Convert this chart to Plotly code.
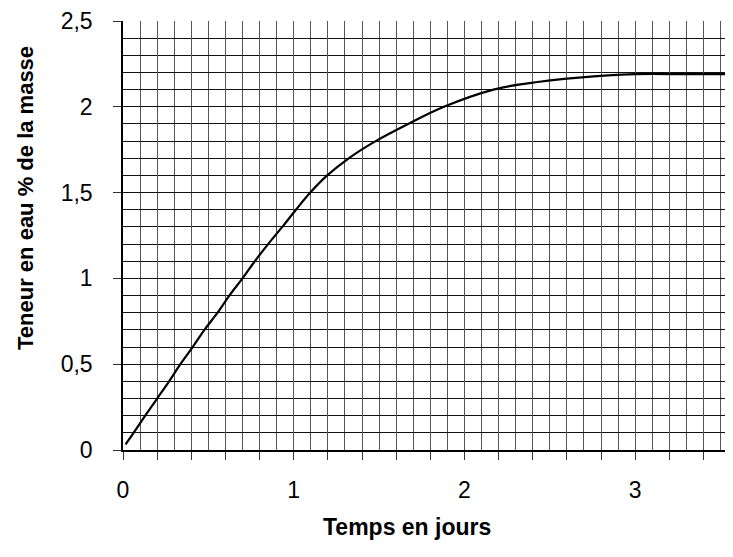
import plotly.graph_objects as go

# Data
temps = [0.015, 0.062, 0.13, 0.20, 0.27, 0.336, 0.408, 0.477, 0.554, 0.623,
         0.70, 0.772, 0.850, 0.933, 1.013, 1.097, 1.196, 1.322, 1.48, 1.67,
         1.88, 2.17, 2.36, 2.67, 3.0, 3.3, 3.57]
teneur = [0.033, 0.10, 0.20, 0.30, 0.40, 0.50, 0.60, 0.70, 0.80, 0.90,
          1.00, 1.10, 1.20, 1.30, 1.40, 1.50, 1.60, 1.70, 1.80, 1.90,
          2.00, 2.10, 2.135, 2.17, 2.19, 2.19, 2.19]

x_major = [round(i * 0.2, 1) for i in range(18)]
x_labels = [str(int(v)) if abs(v - round(v)) < 1e-9 else "" for v in x_major]
y_major = [0, 0.5, 1, 1.5, 2, 2.5]
y_labels = ["0", "0,5", "1", "1,5", "2", "2,5"]

FONT = "Liberation Sans, Arial, sans-serif"

fig = go.Figure()
fig.add_trace(go.Scatter(x=temps, y=teneur, mode="lines",
                         line=dict(color="black", width=2.2, shape="spline", smoothing=1.0),
                         showlegend=False, hoverinfo="skip"))

fig.update_layout(
    width=725, height=549,
    margin=dict(l=115, r=0, t=13, b=107),
    paper_bgcolor="white", plot_bgcolor="white",
    font=dict(family=FONT, size=22, color="black"),
    xaxis=dict(range=[0, 3.573], tickmode="array", tickvals=x_major, ticktext=x_labels,
               ticks="outside", ticklen=8, tickcolor="#333", tickwidth=1,
               showgrid=True, gridcolor="#555", gridwidth=1,
               minor=dict(dtick=0.1, showgrid=True, gridcolor="#555", gridwidth=1, ticks=""),
               showline=True, linecolor="black", linewidth=1.5,
               zeroline=False, ticklabelstandoff=11, automargin=False,
               tickfont=dict(family=FONT, size=23)),
    yaxis=dict(range=[0, 2.5], tickmode="array", tickvals=y_major, ticktext=y_labels,
               ticks="outside", ticklen=8, tickcolor="#333", tickwidth=1,
               showgrid=True, gridcolor="#111", gridwidth=1,
               minor=dict(dtick=0.1, showgrid=True, gridcolor="#111", gridwidth=1, ticks=""),
               showline=True, linecolor="black", linewidth=1.5,
               zeroline=False, ticklabelstandoff=16, automargin=False,
               tickfont=dict(family=FONT, size=23)),
    annotations=[
        dict(text="<b>Temps en jours</b>", xref="paper", yref="paper",
             x=0.466, y=-0.18, xanchor="center", yanchor="middle", showarrow=False,
             font=dict(family=FONT, size=23, color="black")),
        dict(text="<b>Teneur en eau % de la masse</b>", xref="paper", yref="paper",
             x=-0.161, y=0.587, xanchor="center", yanchor="middle", showarrow=False,
             textangle=-90, font=dict(family=FONT, size=22, color="black")),
    ],
)

fig.write_html("out.html")
